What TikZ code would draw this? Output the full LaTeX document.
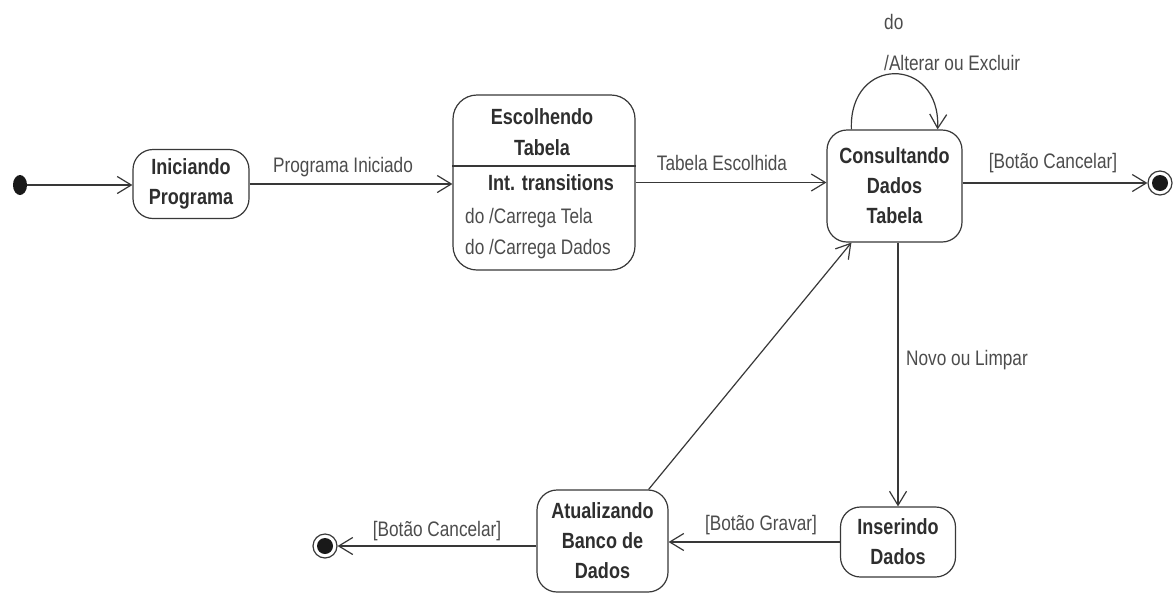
\documentclass[tikz,border=0pt]{standalone}
\usepackage{fontspec}
\setmainfont{Liberation Sans}[FakeStretch=0.82]
\usetikzlibrary{arrows.meta,shapes.geometric,calc}
\definecolor{linec}{gray}{0.22}
\definecolor{labc}{gray}{0.30}
\definecolor{nodec}{gray}{0.18}
\begin{document}
\begin{tikzpicture}[x=1pt,y=-1pt,
  state/.style={draw=linec,line width=1.2pt,rounded corners=20pt,inner sep=0pt,
    align=center,text=nodec,font=\fontsize{22}{30}\selectfont\bfseries},
  lab/.style={inner sep=0pt,text=labc,font=\fontsize{21}{28}\selectfont},
  boldlab/.style={inner sep=0pt,text=nodec,font=\fontsize{22}{30}\selectfont\bfseries},
  arr/.style={draw=linec,line width=1.2pt,-{Straight Barb[length=14pt,width=17pt,line width=1.2pt]}},
  plain/.style={draw=linec,line width=1.2pt}]
\useasboundingbox (0,0) rectangle (1174,595);
\fill[white] (0,0) rectangle (1174,595);

% initial and final states
\node[ellipse,fill=black!90,minimum width=14pt,minimum height=20pt,inner sep=0pt] (init) at (20,185) {};
\node[circle,draw=linec,line width=1.2pt,minimum size=24pt,inner sep=0pt] (fin1) at (1160,183) {};
\node[circle,fill=black!90,minimum size=16pt,inner sep=0pt] (fin1c) at (fin1) {};
\node[circle,draw=linec,line width=1.2pt,minimum size=24pt,inner sep=0pt] (fin2) at (325,546) {};
\node[circle,fill=black!90,minimum size=16pt,inner sep=0pt] (fin2c) at (fin2) {};

% states
\node[state,minimum width=116pt,minimum height=69pt] (ini) at (191,184) {Iniciando\\Programa};
\node[state,rounded corners=24pt,minimum width=182pt,minimum height=175pt] (esc) at (544,182.5) {};
\draw[plain] (esc.west |- 0,166) -- (esc.east |- 0,166);
\node[boldlab] (esct1) at (542,117) {Escolhendo};
\node[boldlab] (esct2) at (542,148) {Tabela};
\node[boldlab] (esct3) at (551,183) {Int. transitions};
\node[lab,anchor=west] (esct4) at (465,218) {do /Carrega Tela};
\node[lab,anchor=west] (esct5) at (465,249) {do /Carrega Dados};
\node[state,minimum width=135pt,minimum height=112pt] (con) at (894.5,186) {Consultando\\Dados\\Tabela};
\node[state,minimum width=115pt,minimum height=70pt] (ins) at (898,542) {Inserindo\\Dados};
\node[state,minimum width=131pt,minimum height=102pt] (atu) at (602.5,541) {Atualizando\\Banco de\\Dados};

% labels
\node[lab] (l1) at (343,167) {Programa Iniciado};
\node[lab] (l2) at (722,163) {Tabela Escolhida};
\node[lab] (l3) at (1053,163) {[Botão Cancelar]};
\node[lab,anchor=west] (l4) at (884,22) {do};
\node[lab,anchor=west] (l5) at (884,63) {/Alterar ou Excluir};
\node[lab] (l6) at (967,360) {Novo ou Limpar};
\node[lab] (l7) at (761,525) {[Botão Gravar]};
\node[lab] (l8) at (437,531) {[Botão Cancelar]};

% transitions
\draw[arr] (init) -- (init -| ini.west);
\draw[arr] (ini.east) -- (ini.east -| esc.west);
\draw[arr] (esc.east) -- (esc.east -| con.west);
\draw[arr] (con.east |- fin1) -- (fin1);
\coordinate (loopa) at ([xshift=25pt]con.north west);
\coordinate (loopb) at ([xshift=-25pt]con.north east);
\draw[arr] (loopa) .. controls ($(loopa)+(-3,-74)$) and ($(loopb)+(3,-74)$) .. (loopb);
\draw[arr] (con.south -| ins.north) -- (ins.north);
\draw[arr] (ins.west) -- (ins.west -| atu.east);
\draw[arr] (atu.west |- fin2) -- (fin2);
\draw[arr] ([xshift=-20pt]atu.north east) -- ([xshift=25pt]con.south west);
\end{tikzpicture}
\end{document}
